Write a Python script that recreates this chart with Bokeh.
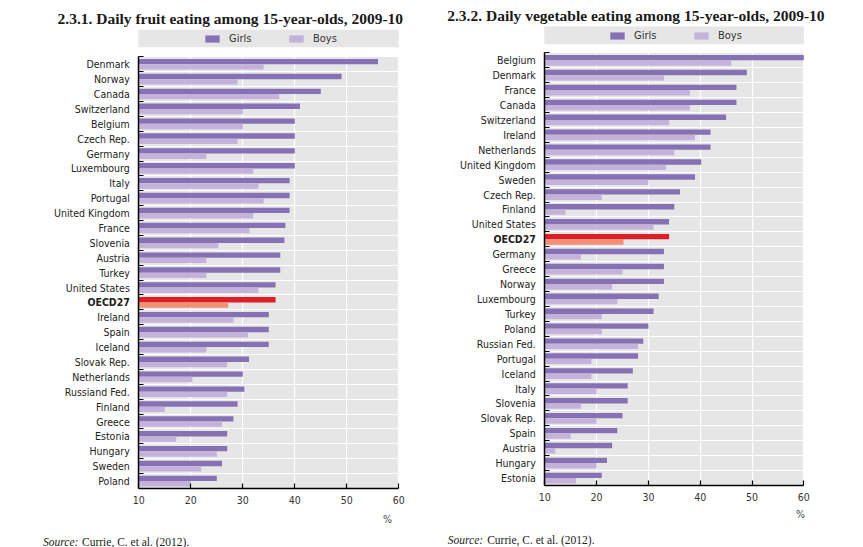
from bokeh.plotting import figure
from bokeh.models import (Range1d, FixedTicker, Label, BoxAnnotation, Legend,
                          LegendItem, ColumnDataSource)
from bokeh.core.properties import value
from bokeh.transform import dodge
from bokeh.layouts import row, column
from bokeh.embed import file_html
from bokeh.resources import INLINE

# ---------------- data ----------------
fruit_countries = ["Denmark", "Norway", "Canada", "Switzerland", "Belgium", "Czech Rep.",
                   "Germany", "Luxembourg", "Italy", "Portugal", "United Kingdom", "France",
                   "Slovenia", "Austria", "Turkey", "United States", "OECD27", "Ireland",
                   "Spain", "Iceland", "Slovak Rep.", "Netherlands", "Russiand Fed.",
                   "Finland", "Greece", "Estonia", "Hungary", "Sweden", "Poland"]
fruit_girls = [56, 49, 45, 41, 40, 40, 40, 40, 39, 39, 39, 38.2, 38, 37.2, 37.2, 36.3,
               36.3, 35, 35, 35, 31.2, 30, 30.3, 29, 28.2, 27, 27, 26, 25]
fruit_boys = [34, 29, 37, 30, 30, 29, 23, 32, 33, 34, 32, 31.3, 25.3, 23, 23, 33,
              27.2, 28.2, 31, 23, 27, 20.3, 27, 15, 26, 17.2, 25, 22, 20]

veg_countries = ["Belgium", "Denmark", "France", "Canada", "Switzerland", "Ireland",
                 "Netherlands", "United Kingdom", "Sweden", "Czech Rep.", "Finland",
                 "United States", "OECD27", "Germany", "Greece", "Norway", "Luxembourg",
                 "Turkey", "Poland", "Russian Fed.", "Portugal", "Iceland", "Italy",
                 "Slovenia", "Slovak Rep.", "Spain", "Austria", "Hungary", "Estonia"]
veg_girls = [60, 49, 47, 47, 45, 42, 42, 40.2, 39, 36.1, 35, 34, 34, 33, 33, 33, 32,
             31, 30, 29, 28, 27, 26, 26, 25, 24, 23, 22, 21]
veg_boys = [46, 33, 38, 38, 34, 39, 35, 33.4, 30, 21, 14, 31, 25.2, 17, 25, 23, 24,
            21, 21, 28, 19, 19, 20, 17, 20, 15, 12, 20, 16]

x_ticks = [10, 20, 30, 40, 50, 60]
series_names = ["Girls", "Boys"]
highlight = "OECD27"

titles = ["2.3.1.  Daily fruit eating among 15-year-olds, 2009-10",
          "2.3.2.  Daily vegetable eating among 15-year-olds, 2009-10"]
source_lead = "Source:"
source_text = "Currie, C. et al. (2012)."
unit_label = "%"

# ---------------- style ----------------
GIRLS = "#8671b5"
BOYS = "#c5b2da"
HL_G = "#dd1e27"
HL_B = "#f28f74"
BG = "#e6e6e6"
SANS = "DejaVu Sans Condensed"
SERIF = "Liberation Serif"
TXT = "#222222"


def make_chart(countries, girls, boys, title, g):
    """g holds pixel geometry of the panel (layout only)."""
    n = len(countries)
    pos = list(range(n - 1, -1, -1))
    src = ColumnDataSource(dict(
        country=countries, y=pos, girls=girls, boys=boys,
        gcol=[HL_G if c == highlight else GIRLS for c in countries],
        bcol=[HL_B if c == highlight else BOYS for c in countries],
        fstyle=["bold" if c == highlight else "normal" for c in countries]))

    W = g["width"]
    x0, x1 = g["px10"], g["px60"]            # pixel position of 10 and 60
    ppu = (x1 - x0) / (x_ticks[-1] - x_ticks[0])
    xs = x_ticks[0] - x0 / ppu
    xe = x_ticks[-1] + (W - x1) / ppu
    rt, rb_ = g["rows_top"], g["rows_bottom"]
    rowh = (rb_ - rt) / n
    ye = (n - 0.5) + rt / rowh

    main = figure(width=W, height=int(rb_) + g["axis_h"],
                  x_range=Range1d(xs, xe), y_range=Range1d(-0.5, ye),
                  output_backend="svg", toolbar_location=None, title=None,
                  min_border_left=0, min_border_right=0, min_border_top=0,
                  min_border_bottom=g["axis_h"])
    main.background_fill_color = "white"
    main.border_fill_color = "white"
    main.outline_line_color = None

    # gray plot area
    main.add_layout(BoxAnnotation(left=x_ticks[0], right=x_ticks[-1], bottom=-0.5,
                                  top=n - 0.5, fill_color=BG, fill_alpha=1,
                                  line_color=None, level="image"))

    rg = main.hbar(y=dodge("y", 0.18, range=main.y_range), left=x_ticks[0],
                   right="girls", height=0.36, fill_color="gcol", line_color=None,
                   source=src)
    rb = main.hbar(y=dodge("y", -0.18, range=main.y_range), left=x_ticks[0],
                   right="boys", height=0.36, fill_color="bcol", line_color=None,
                   source=src)

    # country labels
    main.text(x=x_ticks[0], y="y", text="country", x_offset=-9, text_align="right",
              text_baseline="middle", text_font=value(SANS), text_font_style="fstyle",
              text_font_size=value("10.5px"), text_color=TXT, source=src)

    # x axis
    xa = main.xaxis[0]
    xa.ticker = FixedTicker(ticks=x_ticks, minor_ticks=[])
    xa.bounds = (x_ticks[0], x_ticks[-1])
    xa.major_tick_in = 5
    xa.major_tick_out = 0
    xa.axis_line_width = 1.5
    xa.major_tick_line_width = 1.2
    xa.major_label_text_font = SANS
    xa.major_label_text_font_size = "10.5px"
    xa.major_label_text_color = "#333333"
    xa.major_label_standoff = 7

    # y axis (drawn at x = 10); row boundaries as minor ticks, labels drawn as text
    ya = main.yaxis[0]
    ya.fixed_location = x_ticks[0]
    ya.bounds = (-0.5, n - 0.5)
    ya.ticker = FixedTicker(ticks=[], minor_ticks=[k + 0.5 for k in range(-1, n)])
    ya.major_label_standoff = 0
    ya.major_tick_line_color = None
    ya.major_tick_in = 0
    ya.major_tick_out = 0
    ya.minor_tick_in = 5
    ya.minor_tick_out = 0
    ya.minor_tick_line_color = "black"
    ya.axis_line_width = 1.5

    main.xgrid.grid_line_color = "white"
    main.xgrid.grid_line_width = 1.2
    main.ygrid.grid_line_color = None
    main.ygrid.minor_grid_line_color = "white"
    main.ygrid.minor_grid_line_width = 1.2

    fb = rb_  # frame bottom in pixels from top of figure

    # legend band
    main.add_layout(BoxAnnotation(left=x0 - 0.5, right=x1, top=fb - g["band_top"],
                                  bottom=fb - g["band_bot"], left_units="screen",
                                  right_units="screen", top_units="screen",
                                  bottom_units="screen", fill_color=BG, fill_alpha=1,
                                  line_color=None))
    leg = Legend(items=[LegendItem(label=series_names[0], renderers=[rg], index=0),
                        LegendItem(label=series_names[1], renderers=[rb], index=0)],
                 orientation="horizontal",
                 location=(g["leg_x"], fb - g["leg_cy"] - 6.5),
                 background_fill_alpha=0, border_line_color=None, padding=0, margin=0,
                 glyph_width=18, glyph_height=9, label_standoff=8, label_width=50,
                 label_height=9, spacing=8, label_text_font=SANS,
                 label_text_font_size="11px", label_text_color="#333333")
    main.add_layout(leg)

    # title
    main.add_layout(Label(x=g["title_x"], y=fb - g["title_base"], x_units="screen",
                          y_units="screen", text=title, text_font=SERIF,
                          text_font_style="bold", text_font_size="15.5px",
                          text_color="#1a1a1a", text_baseline="alphabetic"))

    # footer
    FH = 547 - (int(rb_) + g["axis_h"])
    foot = figure(width=W, height=FH, x_range=Range1d(0, W), y_range=Range1d(0, FH),
                  x_axis_type=None, y_axis_type=None, output_backend="svg",
                  toolbar_location=None, title=None, min_border=0)
    foot.outline_line_color = None
    foot.background_fill_color = "white"
    foot.border_fill_color = "white"
    foot.add_layout(Label(x=g["pct_x"], y=547 - g["pct_cy"], x_units="screen",
                          y_units="screen", text=unit_label, text_font=SANS,
                          text_font_size="10.5px", text_color="#444444",
                          text_align="center", text_baseline="middle"))
    foot.add_layout(Label(x=g["src_x"], y=547 - g["src_base"], x_units="screen",
                          y_units="screen", text=source_lead, text_font=SERIF,
                          text_font_style="italic", text_font_size="11.5px",
                          text_color="#222222", text_baseline="alphabetic"))
    foot.add_layout(Label(x=g["src2_x"], y=547 - g["src_base"], x_units="screen",
                          y_units="screen", text=source_text, text_font=SERIF,
                          text_font_size="11.5px", text_color="#222222",
                          text_baseline="alphabetic"))
    return column(main, foot, spacing=0)


left = make_chart(fruit_countries, fruit_girls, fruit_boys, titles[0],
                  dict(width=430, px10=138.3, px60=398.3, rows_top=56.3, rows_bottom=488,
                       axis_h=24, band_top=29.3, band_bot=46.7, leg_x=203, leg_cy=38,
                       title_x=57, title_base=17.5, pct_x=387, pct_cy=518,
                       src_x=42.5, src2_x=81.5, src_base=541))
right = make_chart(veg_countries, veg_girls, veg_boys, titles[1],
                   dict(width=433, px10=114.3, px60=373.3, rows_top=52.3, rows_bottom=485,
                        axis_h=24, band_top=26, band_bot=43.7, leg_x=178, leg_cy=35,
                        title_x=16.7, title_base=14.7, pct_x=370, pct_cy=513,
                        src_x=17.3, src2_x=56.7, src_base=539))

layout = row(left, right, spacing=0)
open("out.html", "w").write(file_html(layout, INLINE))
